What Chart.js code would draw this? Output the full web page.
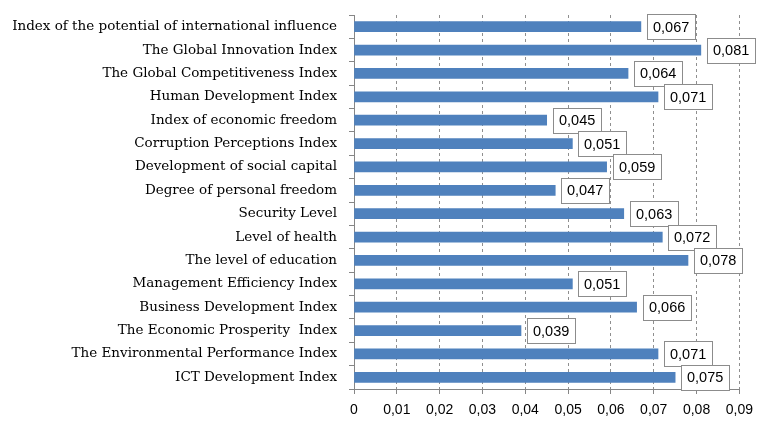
<!DOCTYPE html>
<html>
<head>
<meta charset="utf-8">
<script src="https://cdn.jsdelivr.net/npm/chart.js@4.4.0/dist/chart.umd.min.js"></script>
<style>
    html, body { margin: 0; padding: 0; background: #fff; }
    #wrap { width: 761px; height: 423px; }
</style>
</head>
<body>
<div id="wrap"><canvas id="chartIndices" width="761" height="423"></canvas></div>
<script>
// Datos
const categorias = [
    'Index of the potential of international influence',
    'The Global Innovation Index',
    'The Global Competitiveness Index',
    'Human Development Index',
    'Index of economic freedom',
    'Corruption Perceptions Index',
    'Development of social capital',
    'Degree of personal freedom',
    'Security Level',
    'Level of health',
    'The level of education',
    'Management Efficiency Index',
    'Business Development Index',
    'The Economic Prosperity  Index',
    'The Environmental Performance Index',
    'ICT Development Index'
];
const valores = [0.067, 0.081, 0.064, 0.071, 0.045, 0.051, 0.059, 0.047, 0.063, 0.072, 0.078, 0.051, 0.066, 0.039, 0.071, 0.075];
const ticksX = [0, 0.01, 0.02, 0.03, 0.04, 0.05, 0.06, 0.07, 0.08, 0.09];

const fmtTick = (v) => v === 0 ? '0' : v.toFixed(2).replace('.', ',');

// Etiquetas con recuadro al final de cada barra
const etiquetasPlugin = {
    id: 'etiquetas',
    afterDatasetsDraw(chart) {
        const ctx = chart.ctx;
        const meta = chart.getDatasetMeta(0);
        ctx.save();
        ctx.font = '14.5px "Liberation Sans", Arial, sans-serif';
        ctx.textBaseline = 'middle';
        meta.data.forEach((bar, i) => {
            const txt = valores[i].toFixed(3).replace('.', ',');
            const w = Math.round(ctx.measureText(txt).width + 12);
            const h = 25;
            const x = Math.round(bar.x + 6);
            const y = Math.round(bar.y - h / 2);
            ctx.fillStyle = '#fff';
            ctx.fillRect(x, y, w, h);
            ctx.strokeStyle = '#8c8c8c';
            ctx.lineWidth = 1;
            ctx.strokeRect(x + 0.5, y + 0.5, w, h);
            ctx.fillStyle = '#000';
            ctx.fillText(txt, x + 6, bar.y + 1);
        });
        ctx.restore();
    }
};

const ctx = document.getElementById('chartIndices').getContext('2d');
new Chart(ctx, {
    type: 'bar',
    data: {
        labels: categorias,
        datasets: [{
            data: valores,
            backgroundColor: '#4f81bd',
            borderWidth: 0,
            barThickness: 10
        }]
    },
    options: {
        indexAxis: 'y',
        responsive: false,
        animation: false,
        layout: { padding: { top: 15, right: 14, left: 0, bottom: 0 } },
        plugins: {
            legend: { display: false },
            tooltip: { enabled: false }
        },
        scales: {
            x: {
                min: 0,
                max: 0.09,
                afterBuildTicks: (scale) => { scale.ticks = ticksX.map(v => ({ value: v })); },
                afterFit: (scale) => { scale.height = 34; },
                border: { display: true, color: '#868686', dash: [3, 3] },
                grid: {
                    color: (c) => c.index === 0 ? 'rgba(0,0,0,0)' : '#8f8f8f',
                    drawTicks: true,
                    tickLength: 5,
                    tickColor: '#868686',
                    tickBorderDash: []
                },
                ticks: {
                    callback: (v) => fmtTick(v),
                    color: '#000',
                    font: { family: '"Liberation Sans", Arial, sans-serif', size: 14 },
                    padding: 8,
                    maxRotation: 0
                }
            },
            y: {
                afterFit: (scale) => {
                    scale.width = 354;
                    scale.paddingTop = 0;
                    scale.paddingBottom = 0;
                },
                border: { display: true, color: '#868686' },
                grid: {
                    offset: true,
                    drawOnChartArea: false,
                    tickLength: 5,
                    tickColor: '#868686'
                },
                ticks: {
                    color: '#000',
                    font: { family: '"DejaVu Serif", "Liberation Serif", serif', size: 13.5 },
                    padding: 12,
                    autoSkip: false
                }
            }
        }
    },
    plugins: [etiquetasPlugin]
});
</script>
</body>
</html>
